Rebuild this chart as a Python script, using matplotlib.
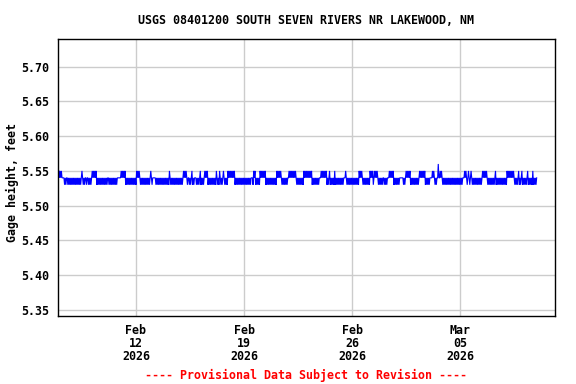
import matplotlib
matplotlib.use('Agg')
import matplotlib.pyplot as plt
import numpy as np
import pandas as pd

# hourly gage height readings, one letter per hour from Feb 7 2026 00:00
code_levels = {'a': 5.53, 'b': 5.54, 'c': 5.55, 'd': 5.56}
level_codes = [
    "cbcbc", "bbbb", "aba", "bb", "ababababababababababab", "cb",
    "ababbabbababab", "cbcbcbc", "ababababababababa", "bb", "ababababababab",
    "bbbbb", "cbcbcbc", "ababababababababa", "cbcbcb", "abababababababab",
    "cbab", "bbbb", "ababababababababababa", "c", "babababababababababab",
    "cbcbcb", "abbabab", "c", "abab", "bb", "ababab", "c", "ababa", "b",
    "cbcbc", "ababababababa", "c", "baba", "c", "babab", "c", "bababa",
    "cbcbcbcbcbc", "ababababababababababababa", "bbb", "acbc", "abababa",
    "cbcbcbcbc", "ababababababababa", "cbcbcbcb", "ababababa", "bb",
    "cbcbcbcbcbcb", "abababababa", "cbcbcbcbcbcbc", "abababababa", "bbb",
    "cbcbcbcbc", "abab", "c", "abababa", "c", "ababababababab", "bbcb",
    "abababababababababa", "cbcbcb", "abababababa", "cbcbc", "ab", "cbcbcb",
    "ababababbababa", "bbb", "cbcbcbc", "ababababab", "bbbbb", "abab",
    "cbcbcbc", "ababababababab", "cbcbcbcbc", "abababab", "bbb", "cbcb",
    "abab", "bdbb", "cbcb", "abababababababababababababababab", "bb",
    "cbcb", "abcbabcb", "abababababababab", "cbcbcbcb", "abababababab", "c",
    "ababababababababa", "cbcbcbcbcbcb", "ababab", "c", "abab", "c",
    "abababab", "c", "abababa", "c", "ababab",
]
start_time = "2026-02-07 00:00"
x_limits = ["2026-02-06 22:45", "2026-03-11 03:30"]
y_ticks = [5.35, 5.40, 5.45, 5.50, 5.55, 5.60, 5.65, 5.70]
x_ticks = ["2026-02-12", "2026-02-19", "2026-02-26", "2026-03-05"]
x_tick_labels = ["Feb\n12\n2026", "Feb\n19\n2026", "Feb\n26\n2026", "Mar\n05\n2026"]

codes = "".join(level_codes)
values = [code_levels[c] for c in codes]
times = pd.date_range(start_time, periods=len(values), freq="h")

mono = "DejaVu Sans Mono"
fs = 8.4

fig = plt.figure(figsize=(5.76, 3.84), dpi=100)
ax = fig.add_axes([58/576, 1-316/384, 497/576, 277/384])

ax.plot(times, values, color="#0000ff", lw=0.8, solid_joinstyle="miter")

ax.set_xlim(pd.Timestamp(x_limits[0]), pd.Timestamp(x_limits[1]))
ax.set_ylim(5.341, 5.740)
ax.set_yticks(y_ticks)
ax.set_yticklabels(["%.2f" % v for v in y_ticks], family=mono,
                   fontweight="bold", fontsize=fs)
ax.set_xticks([pd.Timestamp(t) for t in x_ticks])
ax.set_xticklabels(x_tick_labels, family=mono, fontweight="bold",
                   fontsize=fs, linespacing=1.0)
ax.tick_params(length=0)
ax.tick_params(axis="y", pad=6)
ax.tick_params(axis="x", pad=6)
ax.grid(True, color="#cccccc", lw=1)
ax.set_axisbelow(True)
for s in ax.spines.values():
    s.set_linewidth(1)
    s.set_color("black")

fig.text(12/576, 1-183/384, "Gage height, feet", rotation=90,
         ha="center", va="center", family=mono, fontweight="bold", fontsize=fs)

fig.text(306/576, 1-20/384, "USGS 08401200 SOUTH SEVEN RIVERS NR LAKEWOOD, NM",
         ha="center", va="center", family=mono, fontweight="bold", fontsize=fs)
fig.text(306/576, 1-375/384, "---- Provisional Data Subject to Revision ----",
         ha="center", va="center", family=mono, fontweight="bold",
         fontsize=fs, color="red")

fig.savefig("out.png", dpi=100)
